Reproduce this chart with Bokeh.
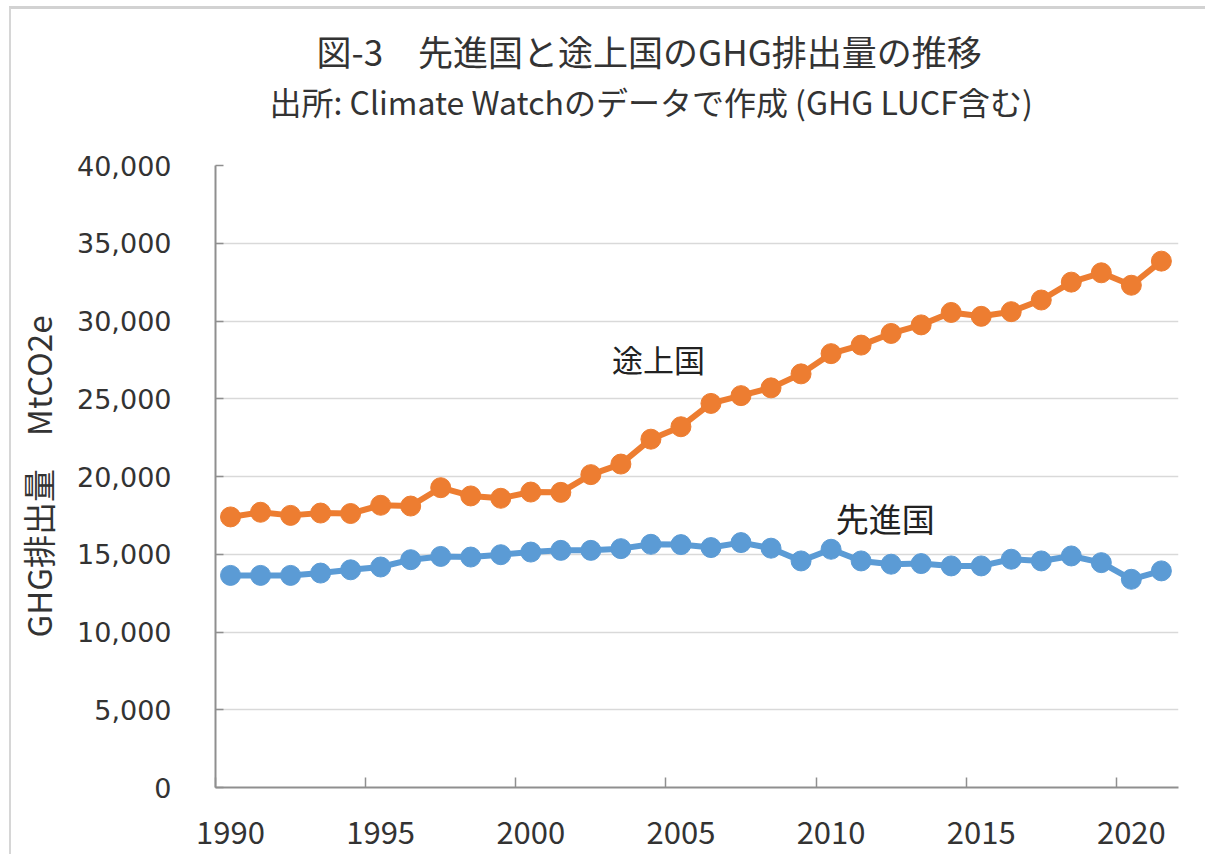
from bokeh.plotting import figure
from bokeh.models import Range1d, FixedTicker, Label, Title, NumeralTickFormatter, ColumnDataSource
from bokeh.embed import file_html
from bokeh.resources import INLINE

# ---- data ----
years = list(range(1990, 2022))
developing = [17400, 17700, 17500, 17650, 17620, 18150, 18100, 19280, 18750, 18600,
              19000, 18980, 20120, 20800, 22400, 23200, 24700, 25200, 25700, 26600,
              27900, 28450, 29200, 29750, 30550, 30300, 30600, 31350, 32500, 33100,
              32300, 33850]
developed = [13640, 13640, 13640, 13790, 14000, 14180, 14650, 14860, 14820, 14970,
             15140, 15250, 15250, 15360, 15640, 15620, 15430, 15750, 15390, 14570,
             15320, 14570, 14360, 14400, 14250, 14250, 14680, 14570, 14890, 14460,
             13390, 13930]
label_years = [1990, 1995, 2000, 2005, 2010, 2015, 2020]
y_ticks = [0, 5000, 10000, 15000, 20000, 25000, 30000, 35000, 40000]

title_text = "図-3　先進国と途上国のGHG排出量の推移"
subtitle_text = "出所: Climate Watchのデータで作成  (GHG LUCF含む)"
ylabel_text = "GHG排出量　MtCO2e"
name_dev = "途上国"
name_adv = "先進国"

ORANGE = "#ED7D31"
BLUE = "#5B9BD5"
TXT = "#333333"
AX = "#8f8f8f"
CJK = "Noto Sans CJK JP"

src = ColumnDataSource(dict(year=years, developing=developing, developed=developed))

p = figure(width=1196, height=848, output_backend="svg", toolbar_location=None,
           x_range=Range1d(1989.5, 2021.57), y_range=Range1d(0, 40000),
           min_border_left=203, min_border_right=29, min_border_top=156,
           min_border_bottom=70)
p.styles = {"margin-top": "6px", "margin-left": "9px",
            "border-top": "3px solid #d2d2d2", "border-left": "2px solid #d6d6d6"}
p.outline_line_color = None
p.background_fill_color = "white"
p.border_fill_color = "white"

for col, color in (("developing", ORANGE), ("developed", BLUE)):
    p.line("year", col, source=src, line_color=color, line_width=6)
    p.scatter("year", col, source=src, size=20, fill_color=color, line_color=color)

# x axis: labels centred on the data points, tick marks between categories
xa = p.xaxis[0]
xa.ticker = FixedTicker(ticks=label_years, minor_ticks=[y - 0.5 for y in label_years])
xa.major_tick_line_color = None
xa.major_tick_in = 0
xa.major_tick_out = 0
xa.minor_tick_line_color = AX
xa.minor_tick_line_width = 1.5
xa.minor_tick_in = 10
xa.minor_tick_out = 0
xa.axis_line_color = AX
xa.axis_line_width = 2
xa.major_label_text_font = CJK
xa.major_label_text_font_size = "31px"
xa.major_label_text_color = TXT
xa.major_label_standoff = 33

ya = p.yaxis[0]
ya.ticker = FixedTicker(ticks=y_ticks)
ya.formatter = NumeralTickFormatter(format="0,0")
ya.minor_tick_line_color = None
ya.major_tick_in = 8
ya.major_tick_out = 0
ya.major_tick_line_color = AX
ya.major_tick_line_width = 1.5
ya.axis_line_color = AX
ya.axis_line_width = 2
ya.major_label_text_font = "DejaVu Sans"
ya.major_label_text_font_size = "27px"
ya.major_label_text_color = TXT
ya.major_label_standoff = 44
ya.axis_label = ylabel_text
ya.axis_label_text_font = CJK
ya.axis_label_text_font_size = "33px"
ya.axis_label_text_font_style = "normal"
ya.axis_label_text_color = TXT
ya.axis_label_standoff = 12

p.xgrid.grid_line_color = None
p.ygrid.grid_line_color = "#d9d9d9"
p.ygrid.grid_line_width = 1.5

# subtitle first (closest to the plot), then the main title above it
p.add_layout(Title(text=subtitle_text, text_font=CJK, text_font_size="32px",
                   text_font_style="normal", text_color=TXT, align="left",
                   padding=dict(top=0, bottom=42, left=0, right=0),
                   offset=54, standoff=0), "above")
p.add_layout(Title(text=title_text, text_font=CJK, text_font_size="35px",
                   text_font_style="normal", text_color=TXT, align="left",
                   offset=101, standoff=0), "above")

# series names placed near the lines (data units)
p.add_layout(Label(x=2004.25, y=27600, text=name_dev, text_font=CJK,
                   text_font_size="31px", text_color="#222222",
                   text_align="center", text_baseline="middle"))
p.add_layout(Label(x=2011.8, y=17300, text=name_adv, text_font=CJK,
                   text_font_size="33px", text_color="#222222",
                   text_align="center", text_baseline="middle"))

open("out.html", "w").write(file_html(p, INLINE))
